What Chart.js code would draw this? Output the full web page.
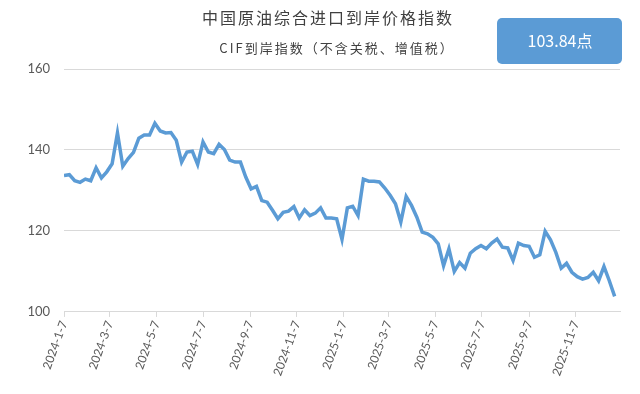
<!DOCTYPE html>
<html>
<head>
<meta charset="utf-8">
<script src="https://cdn.jsdelivr.net/npm/chart.js@4"></script>
<style>
  body { margin: 0; background: #fff; }
  #wrap { width: 640px; height: 394px; }
</style>
</head>
<body>
<div id="wrap"><canvas id="line-chart"></canvas></div>
<script>
// weekly index values, first week 2024-1-7
const startDate = "2024-1-7";
const indexValues = [
  133.7, 133.9, 132.4, 132.0, 132.8, 132.4, 135.6, 133.1, 134.6, 136.6,
  144.2, 136.0, 137.9, 139.4, 142.9, 143.7, 143.7, 146.6, 144.7, 144.2,
  144.3, 142.4, 137.0, 139.5, 139.7, 136.4, 142.0, 139.5, 139.1, 141.4,
  140.1, 137.5, 137.0, 137.0, 133.3, 130.4, 131.0, 127.5, 127.1, 125.1,
  123.0, 124.6, 124.9, 126.0, 123.2, 125.2, 123.8, 124.4, 125.7, 123.2,
  123.2, 123.0, 117.9, 125.7, 126.1, 123.8, 132.8, 132.3, 132.3, 132.1,
  130.6, 128.8, 126.7, 122.2, 128.5, 126.3, 123.4, 119.7, 119.3, 118.4,
  116.8, 111.4, 115.6, 110.0, 112.2, 110.8, 114.5, 115.6, 116.4, 115.6,
  117.0, 118.0, 116.0, 115.8, 112.7, 117.0, 116.4, 116.2, 113.5, 114.1,
  119.9, 117.8, 114.7, 110.8, 112.0, 109.8, 108.7, 108.1, 108.5, 109.8,
  107.7, 111.2, 107.7, 103.84
];
const tickLabels = [
  "2024-1-7", "2024-3-7", "2024-5-7", "2024-7-7", "2024-9-7", "2024-11-7",
  "2025-1-7", "2025-3-7", "2025-5-7", "2025-7-7", "2025-9-7", "2025-11-7"
];
const yTicks = [100, 120, 140, 160];
const latestText = "103.84点";
const titleText = "中国原油综合进口到岸价格指数";
const subtitleText = "CIF到岸指数（不含关税、增值税）";

function dayOf(s) {
  const p = s.split("-").map(Number);
  return Date.UTC(p[0], p[1] - 1, p[2]) / 86400000;
}
const day0 = dayOf(startDate);
const points = indexValues.map((v, i) => ({ x: i * 7, y: v }));
const tickDays = tickLabels.map((l) => dayOf(l) - day0);

const BLUE = "#5b9bd5";
const GRID = "#d9d9d9";
const TEXT = "#595959";

const headerPlugin = {
  id: "header",
  afterDraw(chart) {
    const ctx = chart.ctx;
    ctx.save();
    ctx.textAlign = "center";
    ctx.textBaseline = "middle";
    ctx.fillStyle = "#404040";
    ctx.letterSpacing = "2px";
    ctx.font = '16px "Noto Sans CJK SC"';
    ctx.fillText(titleText, 328, 18);
    ctx.font = '13px "Noto Sans CJK SC"';
    ctx.fillText(subtitleText, 337, 48);
    // value box
    ctx.fillStyle = BLUE;
    ctx.beginPath();
    ctx.roundRect(497, 18, 125, 46, 5);
    ctx.fill();
    ctx.fillStyle = "#fff";
    ctx.letterSpacing = "0px";
    ctx.font = '16px "Noto Sans CJK SC"';
    ctx.fillText(latestText, 560, 41);
    ctx.restore();
  },
};

new Chart(document.getElementById("line-chart"), {
  type: "line",
  data: {
    datasets: [
      {
        data: points,
        borderColor: BLUE,
        borderWidth: 3.5,
        pointRadius: 0,
        tension: 0,
        fill: false,
      },
    ],
  },
  options: {
    responsive: true,
    maintainAspectRatio: false,
    animation: false,
    layout: { padding: { top: 69, left: 0, right: 20, bottom: 14 } },
    plugins: {
      legend: { display: false },
      tooltip: { enabled: false },
    },
    scales: {
      x: {
        type: "linear",
        min: 0,
        max: (indexValues.length - 1) * 7 + 7,
        afterBuildTicks: (scale) => {
          scale.ticks = tickDays.map((d) => ({ value: d }));
        },
        ticks: {
          autoSkip: false,
          minRotation: 70,
          maxRotation: 70,
          color: TEXT,
          font: { family: "Lato", size: 12 },
          padding: 2,
          callback: (v) => {
            const k = tickDays.indexOf(v);
            return k >= 0 ? tickLabels[k] : "";
          },
        },
        grid: {
          drawOnChartArea: false,
          drawTicks: true,
          tickLength: 5,
          color: GRID,
        },
        border: { color: GRID, width: 1 },
      },
      y: {
        min: 100,
        max: 160,
        afterBuildTicks: (scale) => {
          scale.ticks = yTicks.map((v) => ({ value: v }));
        },
        afterFit: (scale) => {
          scale.width = 64;
        },
        ticks: {
          color: TEXT,
          font: { family: "Lato", size: 13 },
          padding: 14,
        },
        grid: { color: GRID, drawTicks: false },
        border: { display: false },
      },
    },
  },
  plugins: [headerPlugin],
});
</script>
</body>
</html>
